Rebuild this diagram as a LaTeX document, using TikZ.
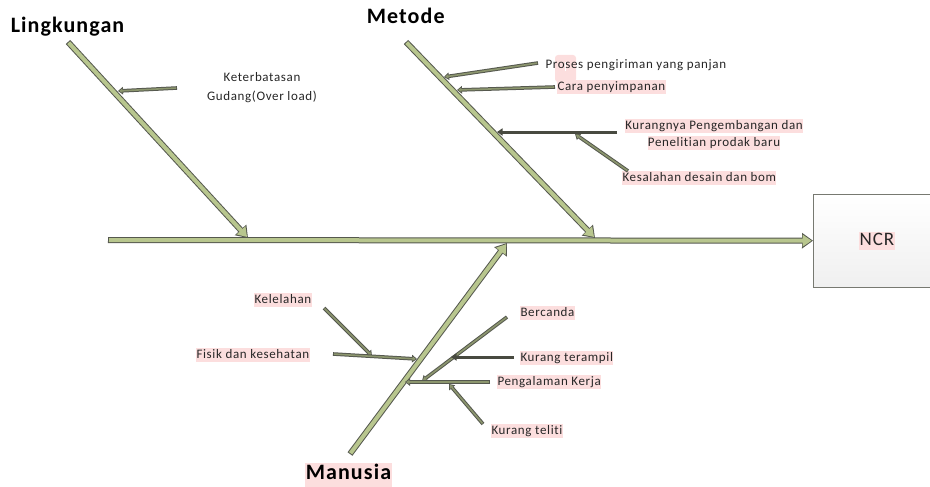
\documentclass[tikz,border=0pt]{standalone}
\usepackage{fontspec}
\setmainfont{Carlito}
\newfontfamily\lblfont[LetterSpace=5,Ligatures=NoCommon]{Carlito}
\newfontfamily\titlefont[LetterSpace=5,Ligatures=NoCommon]{Carlito}
\usetikzlibrary{arrows.meta,positioning}
\definecolor{boneline}{RGB}{85,88,78}
\definecolor{bonefill}{RGB}{184,198,142}
\definecolor{twigfill}{RGB}{140,150,110}
\definecolor{darkline}{RGB}{72,74,64}
\definecolor{hlpink}{RGB}{252,222,222}
\definecolor{txt}{RGB}{38,38,38}
\newcommand{\fishline}[3]{\draw[#1] (#2) -- (#3); \draw[#1in] (#2) -- (#3);}

\begin{document}
\begin{tikzpicture}[x=1pt,y=-1pt]
	\tikzstyle{bone}=[line width=6pt,draw=boneline,-{Triangle[length=11pt,width=15pt]}]
	\tikzstyle{bonein}=[line width=4pt,draw=bonefill,-{Triangle[length=9pt,width=11.5pt]},shorten >=1.4pt,shorten <=1pt]
	\tikzstyle{twig}=[line width=3.6pt,draw=boneline,-{Triangle[length=5pt,width=7.5pt]}]
	\tikzstyle{twigin}=[line width=1.6pt,draw=twigfill,-{Triangle[length=3.2pt,width=4pt]},shorten >=1.2pt,shorten <=0.8pt]
	\tikzstyle{dark}=[line width=3pt,draw=darkline,-{Triangle[length=5.5pt,width=7pt]}]
	\tikzstyle{lbl}=[font=\lblfont\fontsize{13}{15}\selectfont,text=txt,inner sep=0.3pt,text height=9.6pt,text depth=3pt]
	\tikzstyle{hl}=[lbl,fill=hlpink]
	\tikzstyle{title}=[font=\titlefont\fontsize{22}{26}\selectfont\bfseries,inner sep=0.6pt]

	\useasboundingbox (0,0) rectangle (930,487);

	\node (ncr) [draw=boneline!80,top color=white,bottom color=gray!12,minimum width=125pt,minimum height=93pt,anchor=north west] at (813,194) {};
	\node (ncrtext) [hl,font=\lblfont\fontsize{19}{22}\selectfont,text height=13.5pt,text depth=4.5pt] at (877,241) {NCR};

	\node (lingkungan) [title,anchor=base west] at (10,33) {Lingkungan};
	\node (metode) [title,anchor=base west] at (366,24) {Metode};
	\node (manusia) [title,fill=hlpink,anchor=base west,text depth=10pt] at (305,479) {Manusia};

	\node (ketr) [lbl,align=center,text height=,text depth=,font=\lblfont\fontsize{13}{19}\selectfont] at (262,88) {Keterbatasan\\Gudang(Over load)};
	\fill [hlpink,rounded corners=3pt] (555,55) rectangle (576,82);
	\draw [white,line width=1pt] (565,62) -- (565,71);
	\node (proses) [lbl,anchor=west] at (545,65) {Proses pengiriman yang panjan};
	\node (cara) [hl,anchor=west] at (557,87) {Cara penyimpanan};
	\node (kurang) [hl] at (714,126) {Kurangnya Pengembangan dan};
	\node (penelitian) [hl] at (714,143) {Penelitian prodak baru};
	\node (kesalahan) [hl,anchor=west] at (622,178) {Kesalahan desain dan bom};

	\node (kelelahan) [hl,anchor=west] at (254,300) {Kelelahan};
	\node (fisik) [hl,anchor=west] at (196,355) {Fisik dan kesehatan};
	\node (bercanda) [hl,anchor=west] at (520,313) {Bercanda};
	\node (terampil) [hl,anchor=west] at (520,358) {Kurang terampil};
	\node (pengalaman) [hl,anchor=west] at (497,382) {Pengalaman Kerja};
	\node (teliti) [hl,anchor=west] at (491,431) {Kurang teliti};

	\coordinate (spine) at (108,240);
	\coordinate (lstart) at (68,42);		\coordinate (lend) at (248,238);
	\coordinate (mstart) at (406,42);		\coordinate (mend) at (595,238);
	\coordinate (nstart) at (350,454);		\coordinate (nend) at (507,243);

	\coordinate (ketrt) at (177,88);		\coordinate (ketrh) at (118,91);
	\coordinate (prosest) at (538,63);		\coordinate (prosesh) at (444,77);
	\coordinate (carat) at (555,87);		\coordinate (carah) at (457,90);
	\coordinate (kurangt) at (617,132);		\coordinate (kurangh) at (497,132);
	\coordinate (salaht) at (628,171);		\coordinate (salahh) at (575,134);
	\coordinate (lelaht) at (324,308);		\coordinate (lelahh) at (372,356);
	\coordinate (fisikt) at (333,354);		\coordinate (fisikh) at (417,359);
	\coordinate (candat) at (507,317);		\coordinate (candah) at (422,381);
	\coordinate (trampt) at (514,357);		\coordinate (tramph) at (451,357);
	\coordinate (kerjat) at (490,382);		\coordinate (kerjah) at (405,382);
	\coordinate (telitit) at (483,424);		\coordinate (telitih) at (449,384);

	\fishline{bone}{spine}{ncr.west}
	\fishline{bone}{lstart}{lend}
	\fishline{bone}{mstart}{mend}
	\fishline{bone}{nstart}{nend}

	\fishline{twig}{ketrt}{ketrh}
	\fishline{twig}{prosest}{prosesh}
	\fishline{twig}{carat}{carah}
	\fishline{twig}{salaht}{salahh}
	\fishline{twig}{lelaht}{lelahh}
	\fishline{twig}{fisikt}{fisikh}
	\fishline{twig}{candat}{candah}
	\fishline{twig}{kerjat}{kerjah}
	\fishline{twig}{telitit}{telitih}
	\draw [dark] (kurangt) -- (kurangh);
	\draw [dark] (trampt) -- (tramph);
\end{tikzpicture}
\end{document}
